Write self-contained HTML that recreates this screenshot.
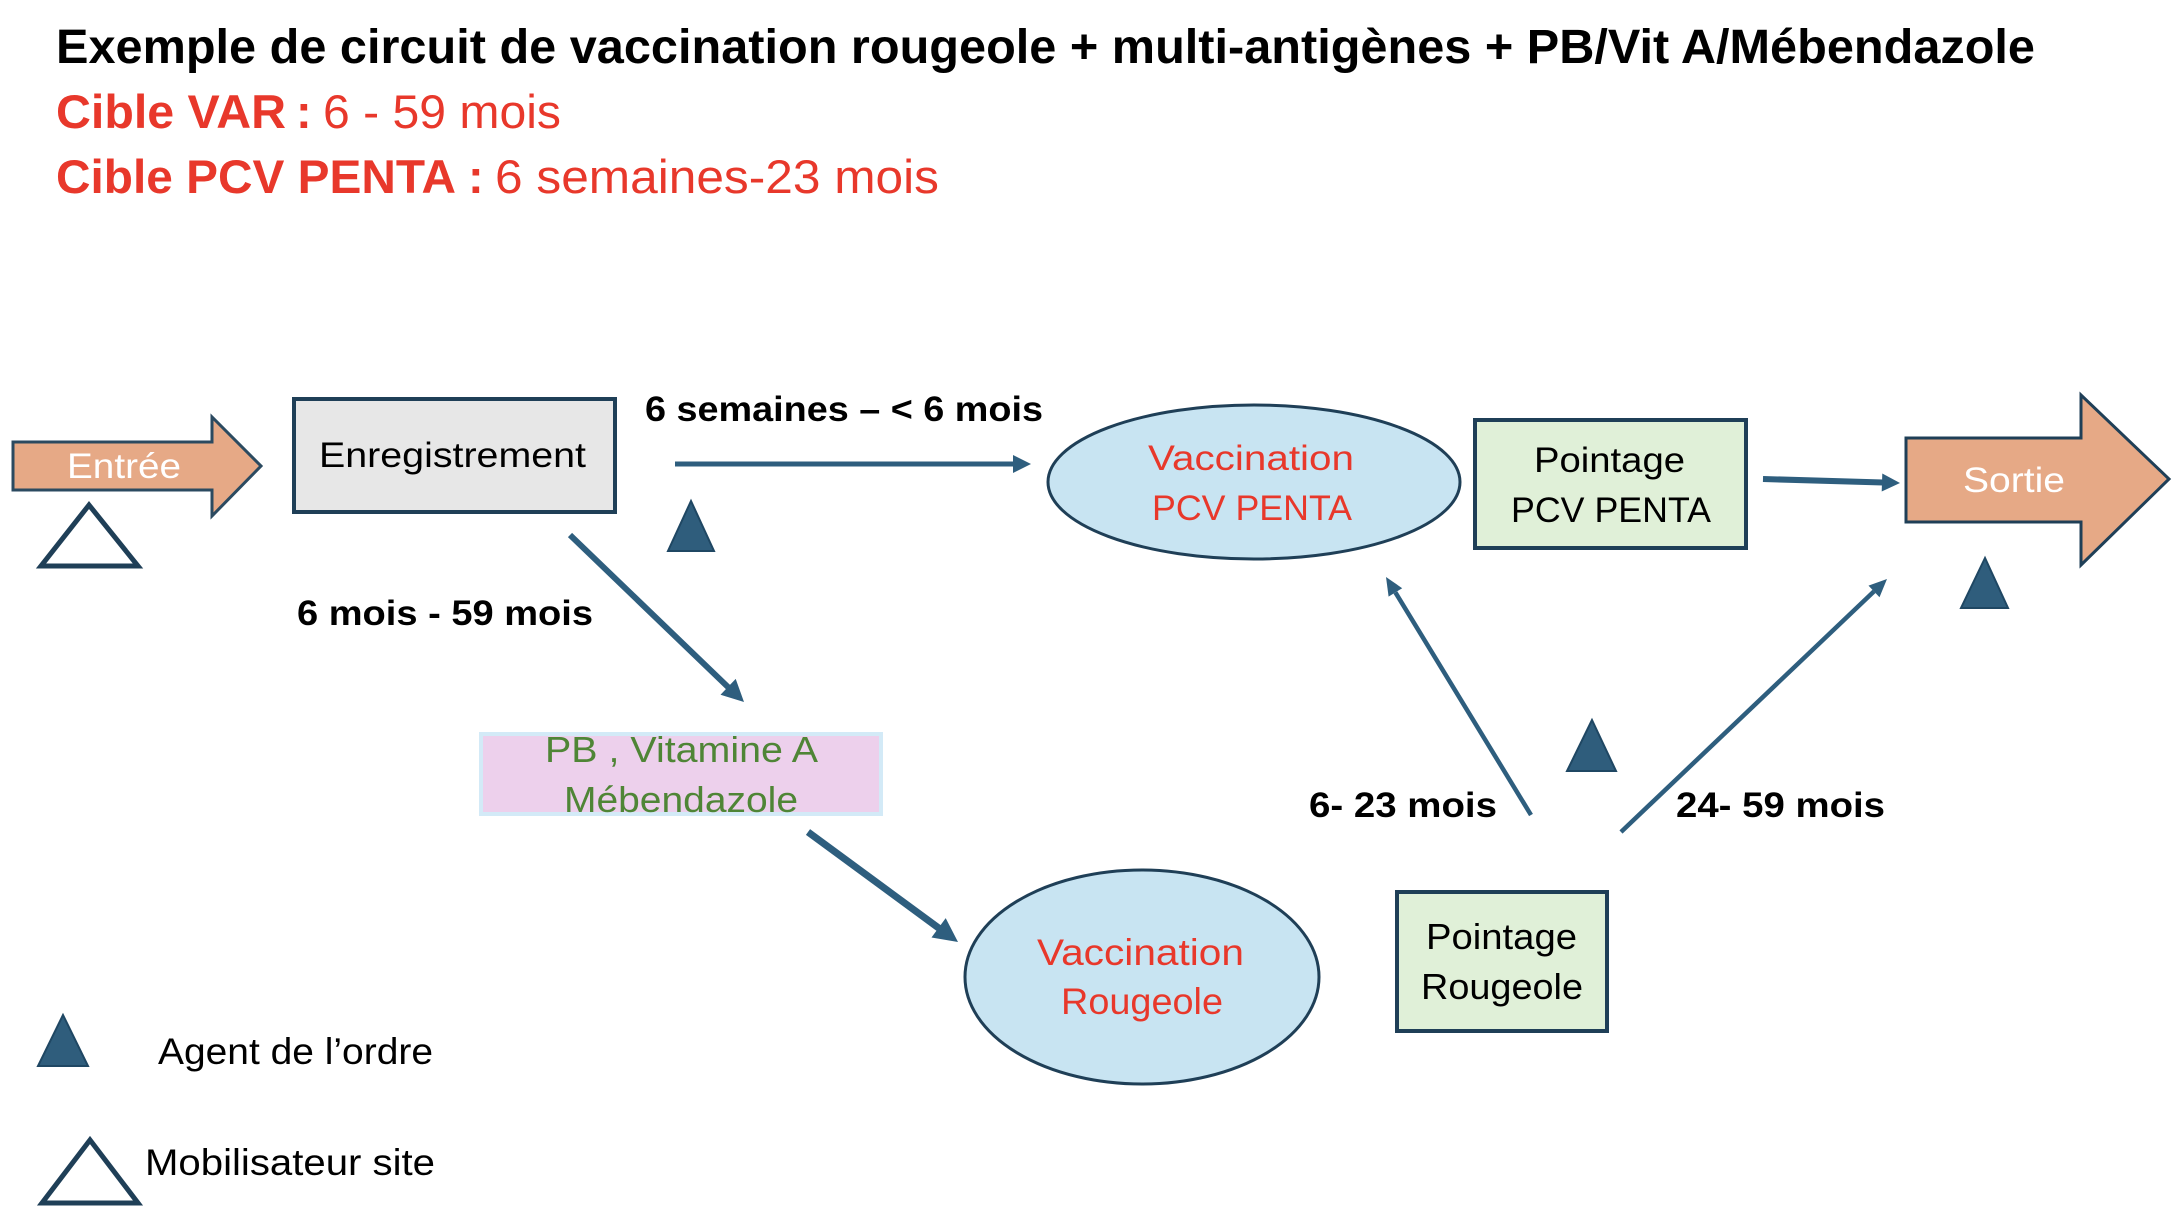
<!DOCTYPE html>
<html><head><meta charset="utf-8"><style>
html,body{margin:0;padding:0;background:#fff;}
svg{display:block;}
text{font-family:"Liberation Sans",Arial,sans-serif;}
</style></head><body>
<svg width="2178" height="1224" viewBox="0 0 2178 1224" xmlns="http://www.w3.org/2000/svg">
<rect width="2178" height="1224" fill="#fff"/>
<!-- Title -->
<text x="56" y="63" font-size="48" font-weight="bold" fill="#000" textLength="1979" lengthAdjust="spacingAndGlyphs">Exemple de circuit de vaccination rougeole + multi-antigènes + PB/Vit A/Mébendazole</text>
<text x="56" y="128" font-size="47" font-weight="bold" fill="#E8382B" textLength="230" lengthAdjust="spacingAndGlyphs">Cible VAR</text>
<text x="296" y="128" font-size="47" font-weight="bold" fill="#E8382B">:</text>
<text x="323" y="128" font-size="47" fill="#E8382B" textLength="238" lengthAdjust="spacingAndGlyphs">6 - 59 mois</text>
<text x="56" y="193" font-size="47" font-weight="bold" fill="#E8382B" textLength="400" lengthAdjust="spacingAndGlyphs">Cible PCV PENTA</text>
<text x="468" y="193" font-size="47" font-weight="bold" fill="#E8382B">:</text>
<text x="495" y="193" font-size="47" fill="#E8382B" textLength="444" lengthAdjust="spacingAndGlyphs">6 semaines-23 mois</text>

<!-- Entrée arrow -->
<polygon points="13,442 212,442 212,417 261,466 212,516 212,490 13,490" fill="#E6A986" stroke="#2B4A60" stroke-width="3"/>
<text x="67" y="478" font-size="35" fill="#fff" textLength="114" lengthAdjust="spacingAndGlyphs">Entrée</text>
<!-- open triangle -->
<polygon points="89,505 41,566 138,566" fill="#fff" stroke="#1F3F57" stroke-width="5"/>

<!-- Enregistrement box -->
<rect x="294" y="399" width="321" height="113" fill="#E7E7E7" stroke="#1F3F57" stroke-width="4"/>
<text x="319" y="467" font-size="35" fill="#000" textLength="267" lengthAdjust="spacingAndGlyphs">Enregistrement</text>

<!-- label 6 semaines -->
<text x="645" y="421" font-size="35" font-weight="bold" fill="#000" textLength="398" lengthAdjust="spacingAndGlyphs">6 semaines – &lt; 6 mois</text>
<!-- horizontal arrow -->
<line x1="675" y1="464" x2="1014" y2="464" stroke="#2E5E7E" stroke-width="5"/>
<polygon points="1031,464 1013,455 1013,473" fill="#2E5E7E"/>
<!-- filled triangle -->
<polygon points="691,501 668,551 714,551" fill="#2F5D7C" stroke="#1F4763" stroke-width="2"/>

<!-- Vaccination PCV PENTA ellipse -->
<ellipse cx="1254" cy="482" rx="206" ry="77" fill="#C8E4F2" stroke="#1F3F57" stroke-width="3"/>
<text x="1148" y="470" font-size="35" fill="#E8382B" textLength="206" lengthAdjust="spacingAndGlyphs">Vaccination</text>
<text x="1152" y="520" font-size="35" fill="#E8382B" textLength="200" lengthAdjust="spacingAndGlyphs">PCV PENTA</text>

<!-- Pointage PCV PENTA -->
<rect x="1475" y="420" width="271" height="128" fill="#E0F0D8" stroke="#1F3F57" stroke-width="4"/>
<text x="1534" y="472" font-size="35" fill="#000" textLength="151" lengthAdjust="spacingAndGlyphs">Pointage</text>
<text x="1511" y="522" font-size="35" fill="#000" textLength="200" lengthAdjust="spacingAndGlyphs">PCV PENTA</text>

<!-- arrow to Sortie -->
<line x1="1763" y1="479" x2="1883" y2="482.5" stroke="#2E5E7E" stroke-width="6"/>
<polygon points="1900,483 1882.3,473.5 1881.7,491.5" fill="#2E5E7E"/>

<!-- Sortie arrow -->
<polygon points="1906,438 2081,438 2081,395 2169,479 2081,565 2081,522 1906,522" fill="#E6A986" stroke="#1F3F57" stroke-width="3"/>
<text x="1963" y="492" font-size="35" fill="#fff" textLength="102" lengthAdjust="spacingAndGlyphs">Sortie</text>
<polygon points="1985,558 1961,608 2008,608" fill="#2F5D7C" stroke="#1F4763" stroke-width="2"/>

<!-- 6 mois - 59 mois label -->
<text x="297" y="625" font-size="35" font-weight="bold" fill="#000" textLength="296" lengthAdjust="spacingAndGlyphs">6 mois - 59 mois</text>
<!-- diagonal arrow to PB -->
<line x1="570" y1="535" x2="729" y2="688" stroke="#2E5E7E" stroke-width="6"/>
<polygon points="744,702 720.5,694.7 735.7,678.9" fill="#2E5E7E"/>

<!-- PB box -->
<rect x="481" y="734" width="400" height="80" fill="#EDD0EC" stroke="#D3EAF7" stroke-width="4"/>
<text x="545" y="762" font-size="36" fill="#4F8536" textLength="273" lengthAdjust="spacingAndGlyphs">PB , Vitamine  A</text>
<text x="564" y="812" font-size="36" fill="#4F8536" textLength="234" lengthAdjust="spacingAndGlyphs">Mébendazole</text>

<!-- arrow PB to Rougeole -->
<line x1="808" y1="832" x2="940" y2="929" stroke="#2E5E7E" stroke-width="7"/>
<polygon points="958,942 931.5,937.5 945.7,918.1" fill="#2E5E7E"/>

<!-- Vaccination Rougeole ellipse -->
<ellipse cx="1142" cy="977" rx="177" ry="107" fill="#C8E4F2" stroke="#1F3F57" stroke-width="3"/>
<text x="1037" y="965" font-size="37" fill="#E8382B" textLength="207" lengthAdjust="spacingAndGlyphs">Vaccination</text>
<text x="1061" y="1014" font-size="37" fill="#E8382B" textLength="162" lengthAdjust="spacingAndGlyphs">Rougeole</text>

<!-- Pointage Rougeole -->
<rect x="1397" y="892" width="210" height="139" fill="#E0F0D8" stroke="#1F3F57" stroke-width="4"/>
<text x="1426" y="949" font-size="36" fill="#000" textLength="151" lengthAdjust="spacingAndGlyphs">Pointage</text>
<text x="1421" y="999" font-size="36" fill="#000" textLength="162" lengthAdjust="spacingAndGlyphs">Rougeole</text>

<!-- up-left arrow -->
<line x1="1531" y1="815" x2="1395.4" y2="592.4" stroke="#2E5E7E" stroke-width="4.5"/>
<polygon points="1386,577 1402.2,588.2 1388.6,596.6" fill="#2E5E7E"/>
<text x="1309" y="817" font-size="35" font-weight="bold" fill="#000" textLength="188" lengthAdjust="spacingAndGlyphs">6- 23 mois</text>

<!-- up-right arrow -->
<line x1="1621" y1="832" x2="1874" y2="591.4" stroke="#2E5E7E" stroke-width="4.5"/>
<polygon points="1887,579 1879.5,597.2 1868.5,585.6" fill="#2E5E7E"/>
<text x="1676" y="817" font-size="35" font-weight="bold" fill="#000" textLength="209" lengthAdjust="spacingAndGlyphs">24- 59 mois</text>

<!-- middle filled triangle -->
<polygon points="1592,720 1567,771 1616,771" fill="#2F5D7C" stroke="#1F4763" stroke-width="2"/>

<!-- Legend -->
<polygon points="63,1015 38,1066 88,1066" fill="#2F5D7C" stroke="#1F4763" stroke-width="2"/>
<text x="158" y="1064" font-size="37" fill="#000" textLength="275" lengthAdjust="spacingAndGlyphs">Agent de l’ordre</text>
<polygon points="90,1140 42,1203 138,1203" fill="#fff" stroke="#1F3F57" stroke-width="5"/>
<text x="145" y="1175" font-size="37" fill="#000" textLength="290" lengthAdjust="spacingAndGlyphs">Mobilisateur site</text>
</svg>
</body></html>
